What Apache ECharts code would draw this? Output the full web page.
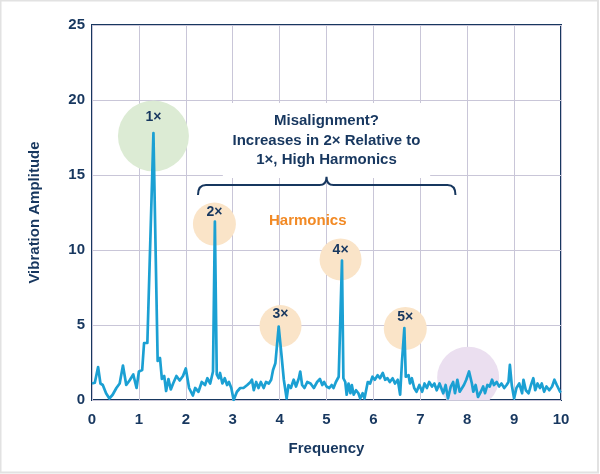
<!DOCTYPE html>
<html><head><meta charset="utf-8">
<script src="https://cdn.jsdelivr.net/npm/echarts@6/dist/echarts.min.js"></script>
<style>html,body{margin:0;padding:0;background:#fff}#c{width:600px;height:474px}</style>
</head><body><div id="c"></div>
<script>
// ---- data ----
const freq = [0,0.06,0.13,0.18,0.23,0.30,0.37,0.44,0.52,0.59,0.66,0.73,0.80,0.88,0.95,1.00,1.07,1.11,1.18,1.31,1.40,1.45,1.49,1.54,1.58,1.63,1.68,1.73,1.80,1.87,1.94,2.00,2.07,2.15,2.20,2.27,2.34,2.41,2.46,2.52,2.58,2.62,2.66,2.70,2.73,2.78,2.83,2.88,2.92,2.97,3.02,3.09,3.16,3.23,3.31,3.38,3.41,3.45,3.50,3.55,3.60,3.66,3.71,3.77,3.82,3.86,3.91,3.98,4.04,4.09,4.15,4.19,4.24,4.30,4.35,4.41,4.44,4.48,4.53,4.59,4.66,4.73,4.80,4.86,4.91,4.95,5.00,5.06,5.11,5.15,5.20,5.26,5.33,5.36,5.40,5.43,5.47,5.51,5.54,5.58,5.63,5.68,5.72,5.77,5.81,5.88,5.93,5.98,6.03,6.09,6.14,6.20,6.25,6.30,6.35,6.41,6.46,6.52,6.57,6.61,6.66,6.69,6.75,6.78,6.82,6.87,6.92,6.98,7.04,7.09,7.14,7.19,7.25,7.30,7.35,7.41,7.44,7.49,7.54,7.59,7.65,7.70,7.74,7.79,7.84,7.88,7.93,7.98,8.04,8.10,8.13,8.18,8.23,8.29,8.34,8.38,8.43,8.48,8.53,8.57,8.63,8.68,8.73,8.79,8.84,8.88,8.91,8.95,9.00,9.05,9.11,9.17,9.20,9.25,9.31,9.36,9.41,9.45,9.50,9.55,9.59,9.64,9.69,9.75,9.81,9.86,9.91,9.98,10.0];
const amplitude = [1.1,1.15,2.2,1.1,1.0,0.45,0.1,0.35,0.8,1.1,2.3,1.0,1.3,1.7,0.8,1.9,2.0,3.8,3.8,17.8,2.6,2.8,1.4,1.6,0.6,1.4,0.7,1.1,1.6,1.3,1.6,2.1,0.8,0.3,0.8,0.55,1.2,1.0,1.45,1.1,1.9,11.9,1.7,1.45,1.8,1.1,1.45,1.0,1.2,0.8,0.0,0.55,0.8,0.8,1.0,1.2,1.35,0.65,1.2,0.8,1.2,0.8,1.2,1.1,1.35,2.0,2.45,4.9,3.0,1.35,0.1,1.0,0.8,1.35,0.9,1.45,1.9,1.0,0.8,1.2,1.1,0.8,1.2,1.4,1.0,1.2,0.9,0.8,1.0,0.8,1.2,1.55,9.3,1.45,1.2,0.35,1.1,0.45,1.0,0.35,0.65,0.45,0.1,0.45,0.1,1.2,1.1,1.55,1.35,1.65,1.45,1.8,1.35,1.45,1.2,1.45,1.1,1.35,0.35,2.6,4.8,1.55,1.65,1.1,1.45,0.8,0.55,1.0,0.55,1.1,0.8,1.2,0.9,1.1,0.65,1.1,1.2,0.45,1.0,0.1,0.9,1.2,0.45,1.35,0.55,0.55,1.0,1.35,1.9,1.1,0.55,1.0,0.2,0.55,0.9,0.45,1.0,0.9,1.35,1.0,1.2,0.9,1.1,0.8,1.0,1.2,2.35,1.0,0.1,0.8,1.1,0.45,1.35,0.65,0.45,1.0,1.45,0.65,1.1,0.8,1.1,0.55,0.9,0.65,0.9,1.35,1.0,0.55,0.5];
const xTicks = [0,1,2,3,4,5,6,7,8,9,10];
const yTicks = [0,5,10,15,20,25];
// annotation circles (harmonic markers)
const markFreq = [1.31, 2.61, 4.02, 5.30, 6.68, 8.02];
const markAmp = [17.6, 11.73, 4.93, 9.37, 4.77, 1.49];
const markLabel = ['1×', '2×', '3×', '4×', '5×', ''];
const titleLines = ['Misalignment?', 'Increases in 2× Relative to', '1×, High Harmonics'];
const harmonicsText = 'Harmonics';
const xName = 'Frequency';
const yName = 'Vibration Amplitude';

// ---- styles ----
const NAVY = '#17375f';
const FONT = "'Liberation Sans', Arial, sans-serif";
const circleStyles = [
  {r: 35.5, fill: '#dcebd4', dy: -18.5},
  {r: 21.5, fill: '#fae4c8', dy: -11.5},
  {r: 21, fill: '#fae4c8', dy: -11.5},
  {r: 21, fill: '#fae4c8', dy: -9},
  {r: 21.5, fill: '#fae4c8', dy: -11.5},
  {r: 31, fill: '#ebdff0', dy: 0}
];

const chart = echarts.init(document.getElementById('c'));
const lineData = freq.map((f, i) => [f, amplitude[i]]);
const markData = markFreq.map((f, i) => [f, markAmp[i], i]);

function annotationItem(params, api) {
  const c = (f, v) => api.coord([f, v]);
  const b0 = c(2.79, 19.8), b1 = c(7.21, 14.8);
  const bl = c(2.26, 13.67), br = c(7.75, 13.67), bh = c(5.0, 14.33), bt = c(5.0, 14.89);
  const yE = bl[1], yH = bh[1], xm = bh[0], yT = bt[1], x0 = bl[0], x1 = br[0];
  const brace = `M${x0},${yE} Q${x0},${yH} ${x0 + 8},${yH} L${xm - 7},${yH} Q${xm},${yH} ${xm},${yT} Q${xm},${yH} ${xm + 7},${yH} L${x1 - 8},${yH} Q${x1},${yH} ${x1},${yE}`;
  const lineY = [18.6, 17.27, 16.0].map(v => c(5, v)[1]);
  const hp = c(4.6, 11.93);
  const children = [
    {type: 'rect', shape: {x: b0[0], y: b0[1], width: b1[0] - b0[0], height: b1[1] - b0[1]}, style: {fill: '#fff'}},
    {type: 'path', shape: {pathData: brace}, style: {fill: 'none', stroke: NAVY, lineWidth: 2}},
    {type: 'text', style: {text: harmonicsText, x: hp[0], y: hp[1], textAlign: 'center', textVerticalAlign: 'middle', fill: '#f28a25', font: 'bold 15px ' + FONT}}
  ];
  titleLines.forEach((t, i) => {
    children.push({type: 'text', style: {text: t, x: bh[0], y: lineY[i], textAlign: 'center', textVerticalAlign: 'middle', fill: NAVY, font: 'bold 15px ' + FONT}});
  });
  return {type: 'group', children};
}

chart.setOption({
  animation: false,
  backgroundColor: '#fff',
  grid: {left: 92, top: 25, width: 469, height: 375, show: true, borderColor: NAVY, borderWidth: 2, backgroundColor: 'transparent'},
  xAxis: {
    type: 'value', min: 0, max: 10, interval: 1,
    name: xName, nameLocation: 'middle', nameGap: 41,
    nameTextStyle: {color: NAVY, fontFamily: FONT, fontWeight: 'bold', fontSize: 15},
    axisLine: {show: false}, axisTick: {show: false},
    axisLabel: {color: NAVY, fontFamily: FONT, fontWeight: 'bold', fontSize: 15, margin: 12,
      formatter: v => xTicks.includes(v) ? String(v) : ''},
    splitLine: {show: true, lineStyle: {color: '#c9c6d8', width: 1}}
  },
  yAxis: {
    type: 'value', min: 0, max: 25, interval: 5,
    name: yName, nameLocation: 'middle', nameGap: 50,
    nameTextStyle: {color: NAVY, fontFamily: FONT, fontWeight: 'bold', fontSize: 15},
    axisLine: {show: false}, axisTick: {show: false},
    axisLabel: {color: NAVY, fontFamily: FONT, fontWeight: 'bold', fontSize: 15, margin: 7,
      formatter: v => yTicks.includes(v) ? String(v) : ''},
    splitLine: {show: true, lineStyle: {color: '#c9c6d8', width: 1}}
  },
  graphic: {elements: [
    {type: 'rect', z: 0, shape: {x: 0.5, y: 0.5, width: 597.5, height: 472}, style: {fill: 'none', stroke: '#e2e2e2', lineWidth: 2}}
  ]},
  series: [
    {
      type: 'custom', clip: true, z: 1,
      data: markData,
      renderItem: (params, api) => {
        const i = api.value(2);
        const p = api.coord([api.value(0), api.value(1)]);
        const st = circleStyles[i];
        const children = [{type: 'circle', shape: {cx: p[0], cy: p[1], r: st.r}, style: {fill: st.fill}}];
        if (markLabel[i]) {
          children.push({type: 'text', z2: 10, style: {text: markLabel[i], x: p[0], y: p[1] + st.dy,
            textAlign: 'center', textVerticalAlign: 'middle', fill: NAVY,
            font: 'bold 14px ' + FONT}});
        }
        return {type: 'group', children};
      }
    },
    {
      type: 'custom', z: 1, data: [[5, 0]],
      renderItem: annotationItem
    },
    {
      type: 'line', data: lineData, showSymbol: false, symbol: 'none', z: 5,
      lineStyle: {color: '#1ba0d3', width: 2.7, join: 'round'}
    }
  ]
});
</script>
</body></html>
